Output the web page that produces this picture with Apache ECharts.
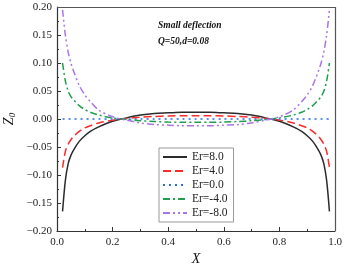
<!DOCTYPE html>
<html>
<head>
<meta charset="utf-8">
<script src="https://cdn.jsdelivr.net/npm/echarts@6/dist/echarts.min.js"></script>
<style>
  html, body { margin: 0; padding: 0; background: #fff; }
  #chart { width: 345px; height: 264px; }
</style>
</head>
<body>
<div id="chart"></div>
<script>
// X positions along the plate
var xs = [0.02, 0.03, 0.04, 0.05, 0.06, 0.08, 0.10, 0.12, 0.15, 0.20, 0.25, 0.30, 0.35, 0.40, 0.45, 0.50,
          0.55, 0.60, 0.65, 0.70, 0.75, 0.80, 0.85, 0.88, 0.90, 0.92, 0.94, 0.95, 0.96, 0.97, 0.98];

// Z0 values, one array per Er
var er8  = [-0.165, -0.110, -0.080, -0.065, -0.055, -0.040, -0.030, -0.022, -0.014, -0.004, 0.002, 0.007, 0.010, 0.011, 0.012, 0.012,
            0.012, 0.011, 0.010, 0.007, 0.002, -0.004, -0.014, -0.022, -0.030, -0.040, -0.055, -0.065, -0.080, -0.110, -0.165];
var er4  = [-0.087, -0.058, -0.045, -0.037, -0.031, -0.022, -0.016, -0.012, -0.007, -0.002, 0.001, 0.003, 0.0045, 0.0055, 0.006, 0.006,
            0.006, 0.0055, 0.0045, 0.003, 0.001, -0.002, -0.007, -0.012, -0.016, -0.022, -0.031, -0.037, -0.045, -0.058, -0.087];
var er0  = [0, 0, 0, 0, 0, 0, 0, 0, 0, 0, 0, 0, 0, 0, 0, 0,
            0, 0, 0, 0, 0, 0, 0, 0, 0, 0, 0, 0, 0, 0, 0];
var erm4 = [0.100, 0.068, 0.050, 0.040, 0.034, 0.024, 0.017, 0.012, 0.007, 0.002, -0.001, -0.003, -0.0045, -0.0055, -0.006, -0.006,
            -0.006, -0.0055, -0.0045, -0.003, -0.001, 0.002, 0.007, 0.012, 0.017, 0.024, 0.034, 0.040, 0.050, 0.068, 0.100];
var erm8 = [0.195, 0.150, 0.120, 0.100, 0.085, 0.060, 0.043, 0.031, 0.016, 0.004, -0.002, -0.007, -0.010, -0.011, -0.012, -0.012,
            -0.012, -0.011, -0.010, -0.007, -0.002, 0.004, 0.016, 0.031, 0.043, 0.060, 0.085, 0.100, 0.120, 0.150, 0.195];

var names = ['Er=8.0', 'Er=4.0', 'Er=0.0', 'Er=-4.0', 'Er=-8.0'];
var colors = ['#2b2b2b', '#ff2a2a', '#2a6fe0', '#1f9e4f', '#a875e6'];
var dashes = ['solid', [8, 4], [2, 4], [7, 3, 2, 3], [7, 3, 2, 3, 2, 3]];
var values = [er8, er4, er0, erm4, erm8];

var serif = '"Liberation Serif", "DejaVu Serif", serif';

function pairs(v) {
    return xs.map(function (x, i) { return [x, v[i]]; });
}

var series = [];
for (var i = 0; i < names.length; i++) {
    series.push({
        name: names[i],
        type: 'line',
        data: pairs(values[i]),
        symbol: 'none',
        smooth: 0.3,
        lineStyle: { color: colors[i], width: 1.5, type: dashes[i] },
        itemStyle: { color: colors[i] }
    });
}

// frame on top and right
series.push({
    type: 'line', data: [], silent: true,
    markLine: {
        silent: true, symbol: 'none', label: { show: false },
        lineStyle: { color: '#555', width: 1.2, type: 'solid' },
        data: [
            [{ coord: [0, 0.2] }, { coord: [1, 0.2] }],
            [{ coord: [1, -0.2] }, { coord: [1, 0.2] }]
        ]
    }
});

var chart = echarts.init(document.getElementById('chart'));
chart.setOption({
    animation: false,
    textStyle: { fontFamily: serif },
    grid: { left: 57, right: 10, top: 7, bottom: 33, outerBoundsMode: 'none', containLabel: false },
    graphic: [
        { type: 'text', left: 158, top: 21, style: { text: 'Small deflection', font: 'italic bold 9.5px ' + serif, fill: '#111' } },
        { type: 'text', left: 158, top: 37, style: { text: 'Q=50,d=0.08', font: 'italic bold 9.5px ' + serif, fill: '#111' } }
    ],
    legend: {
        orient: 'vertical',
        left: 159,
        top: 148,
        data: names,
        itemWidth: 24,
        itemHeight: 10,
        itemGap: 2,
        padding: [3, 6, 3, 3],
        borderColor: '#999',
        borderWidth: 1,
        itemStyle: { opacity: 0 },
        textStyle: { fontFamily: serif, fontSize: 11.5, lineHeight: 12, color: '#222' }
    },
    xAxis: {
        type: 'value',
        min: 0, max: 1, interval: 0.2,
        name: '{i|X}',
        nameLocation: 'middle',
        nameGap: 21,
        nameMoveOverlap: false,
        nameTextStyle: { rich: { i: { fontFamily: serif, fontStyle: 'italic', fontSize: 14, color: '#111' } } },
        axisLine: { onZero: false, lineStyle: { color: '#333', width: 1.2 } },
        axisTick: { inside: true, length: 4, lineStyle: { color: '#333' } },
        minorTick: { show: true, splitNumber: 2, length: 2, lineStyle: { color: '#333' } },
        splitLine: { show: false },
        axisLabel: {
            fontFamily: serif, fontSize: 11, color: '#222', margin: 6,
            formatter: function (v) { return v.toFixed(1); }
        }
    },
    yAxis: {
        type: 'value',
        min: -0.2, max: 0.2, interval: 0.05,
        name: '{i|Z}{s|0}',
        nameLocation: 'middle',
        nameRotate: 90,
        nameGap: 40,
        nameMoveOverlap: false,
        nameTextStyle: { rich: {
            i: { fontFamily: serif, fontStyle: 'italic', fontSize: 14, color: '#111' },
            s: { fontFamily: serif, fontStyle: 'italic', fontSize: 9, color: '#111', verticalAlign: 'bottom', padding: [6, 0, 0, 0] }
        } },
        axisLine: { onZero: false, lineStyle: { color: '#333', width: 1.2 } },
        axisTick: { inside: true, length: 4, lineStyle: { color: '#333' } },
        minorTick: { show: true, splitNumber: 2, length: 2, lineStyle: { color: '#333' } },
        splitLine: { show: false },
        axisLabel: {
            fontFamily: serif, fontSize: 11, color: '#222', margin: 5,
            formatter: function (v) {
                var s = Math.abs(v).toFixed(2);
                return v < -1e-9 ? '\u2212' + s : s;
            }
        }
    },
    series: series
});
</script>
</body>
</html>
